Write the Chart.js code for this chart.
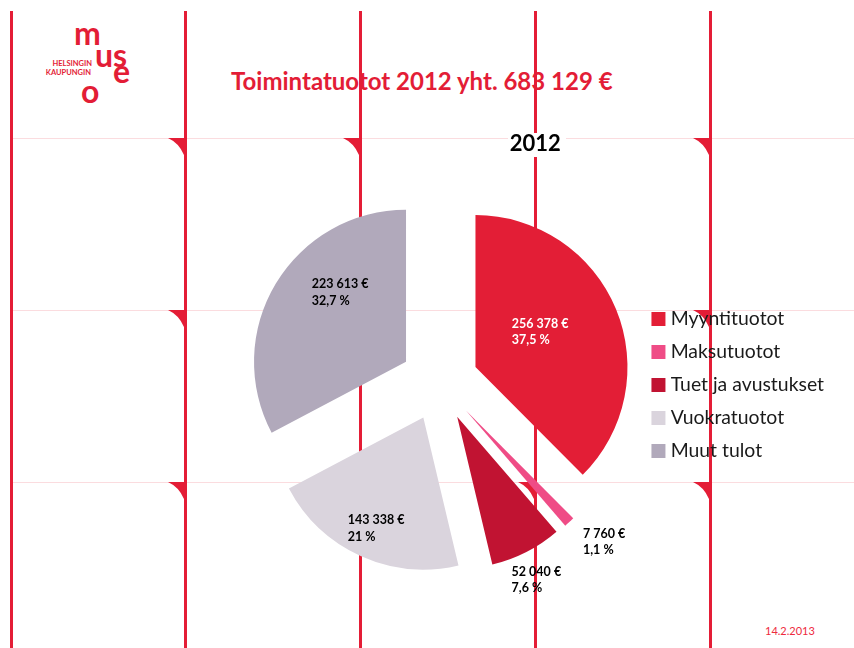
<!DOCTYPE html>
<html>
<head>
<meta charset="utf-8">
<script src="https://cdn.jsdelivr.net/npm/chart.js@4.4.0/dist/chart.umd.min.js"></script>
<style>
  html, body { margin: 0; padding: 0; background: #fff; }
  #slide { position: relative; width: 854px; height: 648px; overflow: hidden; }
  #deco, #pie { position: absolute; left: 0; top: 0; }
  #deco text { font-family: Lato, "Open Sans", sans-serif; }
</style>
</head>
<body>
<div id="slide">
  <svg id="deco" width="854" height="648" xmlns="http://www.w3.org/2000/svg">
    <g id="grid"></g>
    <rect x="508" y="133" width="58" height="24" fill="#fff"/>
    <!-- logo -->
    <g fill="#e31d36" font-weight="700">
      <text x="74" y="45" font-size="32">m</text>
      <text x="95" y="67" font-size="32">us</text>
      <text x="113" y="83" font-size="32">e</text>
      <text x="81" y="103" font-size="32">o</text>
      <text x="92" y="66" font-size="7.5" text-anchor="end">HELSINGIN</text>
      <text x="91" y="75" font-size="7.5" text-anchor="end">KAUPUNGIN</text>
    </g>
    <text x="231" y="90" font-size="24" font-weight="700" fill="#e31d36">Toimintatuotot 2012 yht. 683 129 €</text>
    <text x="765" y="635" font-size="11" fill="#ee2a40">14.2.2013</text>
  </svg>
  <canvas id="pie" width="854" height="648"></canvas>
</div>
<script>
// chart data
const labels = ['Myyntituotot', 'Maksutuotot', 'Tuet ja avustukset', 'Vuokratuotot', 'Muut tulot'];
const values = [256378, 7760, 52040, 143338, 223613];
const colors = ['#e31e36', '#ef4c86', '#c11332', '#dad4dd', '#b1a9bb'];
const labelColors = ['#ffffff', '#000000', '#000000', '#000000', '#000000'];
const chartTitle = '2012';

// where each value label sits: distance from pie centre (x radius) and turn (deg)
const labelDist = [0.74, 1.51, 1.45, 1.05, 0.88];
const labelTurn = [-4, -3, 1, -1, 11];

// slide background: red vertical lines, faint horizontal lines, little flags
const gridX = [11.5, 185.5, 360.5, 535.5, 710.5];
const gridY = [138.5, 310.5, 482.5];
const svgNS = 'http://www.w3.org/2000/svg';
const grid = document.getElementById('grid');
function add(tag, attrs) {
  const el = document.createElementNS(svgNS, tag);
  for (const k in attrs) el.setAttribute(k, attrs[k]);
  grid.appendChild(el);
}
gridY.forEach(y => add('rect', {x: 13, y: y - 0.5, width: 841, height: 1, fill: '#fbdcdf'}));
gridX.forEach((x, i) => {
  add('rect', {x: x - 1.5, y: 11, width: 3, height: 637, fill: '#e41d36'});
  if (i === 0) return;
  gridY.forEach(y => {
    const l = x - 1.5, t = y - 0.5;
    add('path', {d: `M${l - 16} ${t} L${l} ${t} L${l} ${t + 17} Q${l - 5} ${t + 5} ${l - 16} ${t} Z`, fill: '#e41d36'});
  });
});

function euro(v) {
  return v.toString().replace(/\B(?=(\d{3})+(?!\d))/g, ' ') + ' €';
}
function percent(p) {
  return (p * 100).toFixed(1).replace(/\.0$/, '').replace('.', ',') + ' %';
}

// push every slice out from the centre along its middle angle
const explode = {
  id: 'explode',
  afterDatasetsUpdate(chart, args, opts) {
    chart.getDatasetMeta(0).data.forEach(arc => {
      const mid = (arc.startAngle + arc.endAngle) / 2;
      arc.x += Math.cos(mid) * opts.distance;
      arc.y += Math.sin(mid) * opts.distance;
    });
  }
};

const sliceLabels = {
  id: 'sliceLabels',
  afterDatasetsDraw(chart) {
    const {ctx, chartArea} = chart;
    const cx = (chartArea.left + chartArea.right) / 2;
    const cy = (chartArea.top + chartArea.bottom) / 2;
    const total = values.reduce((a, b) => a + b, 0);
    ctx.save();
    ctx.font = 'bold 12.5px Lato';
    ctx.textBaseline = 'middle';
    ctx.textAlign = 'left';
    chart.getDatasetMeta(0).data.forEach((arc, i) => {
      const a = (arc.startAngle + arc.endAngle) / 2 + labelTurn[i] * Math.PI / 180;
      const d = labelDist[i] * arc.outerRadius;
      const x = cx + Math.cos(a) * d;
      const y = cy + Math.sin(a) * d;
      const lines = [euro(values[i]), percent(values[i] / total)];
      const w = Math.max(...lines.map(t => ctx.measureText(t).width));
      ctx.fillStyle = labelColors[i];
      lines.forEach((t, k) => ctx.fillText(t, x - w / 2, y + (k - 0.5) * 16.5));
    });
    ctx.restore();
  }
};

new Chart('pie', {
  type: 'pie',
  data: {
    labels: labels,
    datasets: [{
      data: values,
      backgroundColor: colors,
      borderWidth: 0,
      radius: 152
    }]
  },
  plugins: [explode, sliceLabels],
  options: {
    responsive: false,
    animation: false,
    events: [],
    layout: { padding: { left: 236.5, right: 20, top: 125, bottom: 50 } },
    plugins: {
      explode: { distance: 39 },
      tooltip: { enabled: false },
      title: {
        display: true,
        text: chartTitle,
        color: '#000',
        font: { family: 'Lato', size: 22, weight: 'bold' },
        padding: { top: 6, bottom: 8.6 }
      },
      legend: {
        position: 'right',
        fullSize: false,
        title: { display: true, text: '', font: { size: 5 }, padding: 0 },
        labels: {
          usePointStyle: true,
          pointStyle: 'rect',
          boxWidth: 5,
          boxHeight: 14,
          padding: 13.6,
          color: '#1a1a1a',
          font: { family: 'Lato', size: 19.4 }
        }
      }
    }
  }
});
</script>
</body>
</html>
